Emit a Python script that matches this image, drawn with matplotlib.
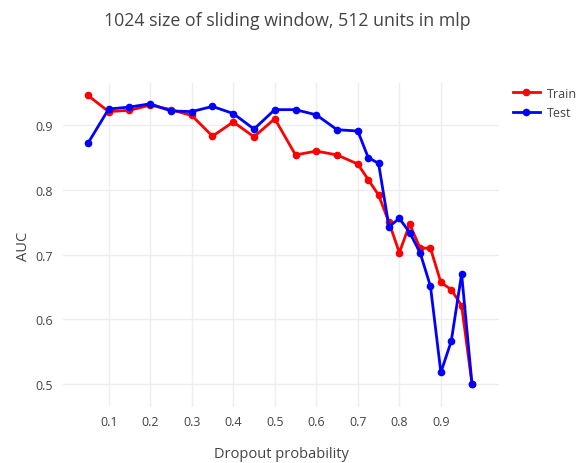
import matplotlib
matplotlib.use("Agg")
import matplotlib.pyplot as plt

plt.rcParams['font.family'] = ['Open Sans', 'DejaVu Sans']

dropout = [0.05, 0.1, 0.15, 0.2, 0.25, 0.3, 0.35, 0.4, 0.45, 0.5, 0.55, 0.6, 0.65,
           0.7, 0.725, 0.75, 0.775, 0.8, 0.825, 0.85, 0.875, 0.9, 0.925, 0.95, 0.975]
train_auc = [0.946, 0.921, 0.923, 0.931, 0.924, 0.915, 0.883, 0.905, 0.882, 0.910,
             0.854, 0.860, 0.854, 0.840, 0.816, 0.792, 0.750, 0.703, 0.747, 0.710,
             0.710, 0.657, 0.646, 0.621, 0.500]
test_auc = [0.872, 0.925, 0.928, 0.933, 0.922, 0.921, 0.929, 0.918, 0.894, 0.924,
            0.924, 0.916, 0.893, 0.891, 0.850, 0.841, 0.743, 0.756, 0.734, 0.703,
            0.651, 0.518, 0.566, 0.670, 0.500]
xticks = [0.1, 0.2, 0.3, 0.4, 0.5, 0.6, 0.7, 0.8, 0.9]
yticks = [0.5, 0.6, 0.7, 0.8, 0.9]

txt = '#444444'
fig = plt.figure(figsize=(5.79, 4.64), dpi=100)
ax = fig.add_axes([0.1088, 0.1207, 0.753, 0.698])

ax.plot(dropout, train_auc, '-o', color='#ff0000', lw=2, ms=4.5, label='Train', zorder=3)
ax.plot(dropout, test_auc, '-o', color='#0000ff', lw=2, ms=4.5, label='Test', zorder=4)

ax.set_xlim(-0.01, 1.04)
ax.set_ylim(0.4645, 0.965)
ax.set_xticks(xticks)
ax.set_yticks(yticks)
ax.set_xticklabels([str(t) for t in xticks])
ax.set_yticklabels([str(t) for t in yticks])
ax.tick_params(length=0, labelsize=9, labelcolor=txt)
ax.tick_params(axis='x', pad=6)
ax.tick_params(axis='y', pad=7)
ax.grid(True, color='#eeeeee', lw=1)
ax.set_axisbelow(True)
for s in ax.spines.values():
    s.set_visible(False)

ax.set_xlabel('Dropout probability', fontsize=10.5, color=txt, labelpad=13)
ax.set_ylabel('AUC', fontsize=10.5, color=txt, labelpad=3)
fig.suptitle('1024 size of sliding window, 512 units in mlp', fontsize=12.75,
             color=txt, y=0.975, x=0.497)

leg = ax.legend(loc='upper left', bbox_to_anchor=(1.02, 1.005), frameon=False,
                fontsize=9, labelcolor=txt, handlelength=2.2, handletextpad=0.5,
                borderaxespad=0, labelspacing=0.55)

fig.savefig('out.png', dpi=100)
